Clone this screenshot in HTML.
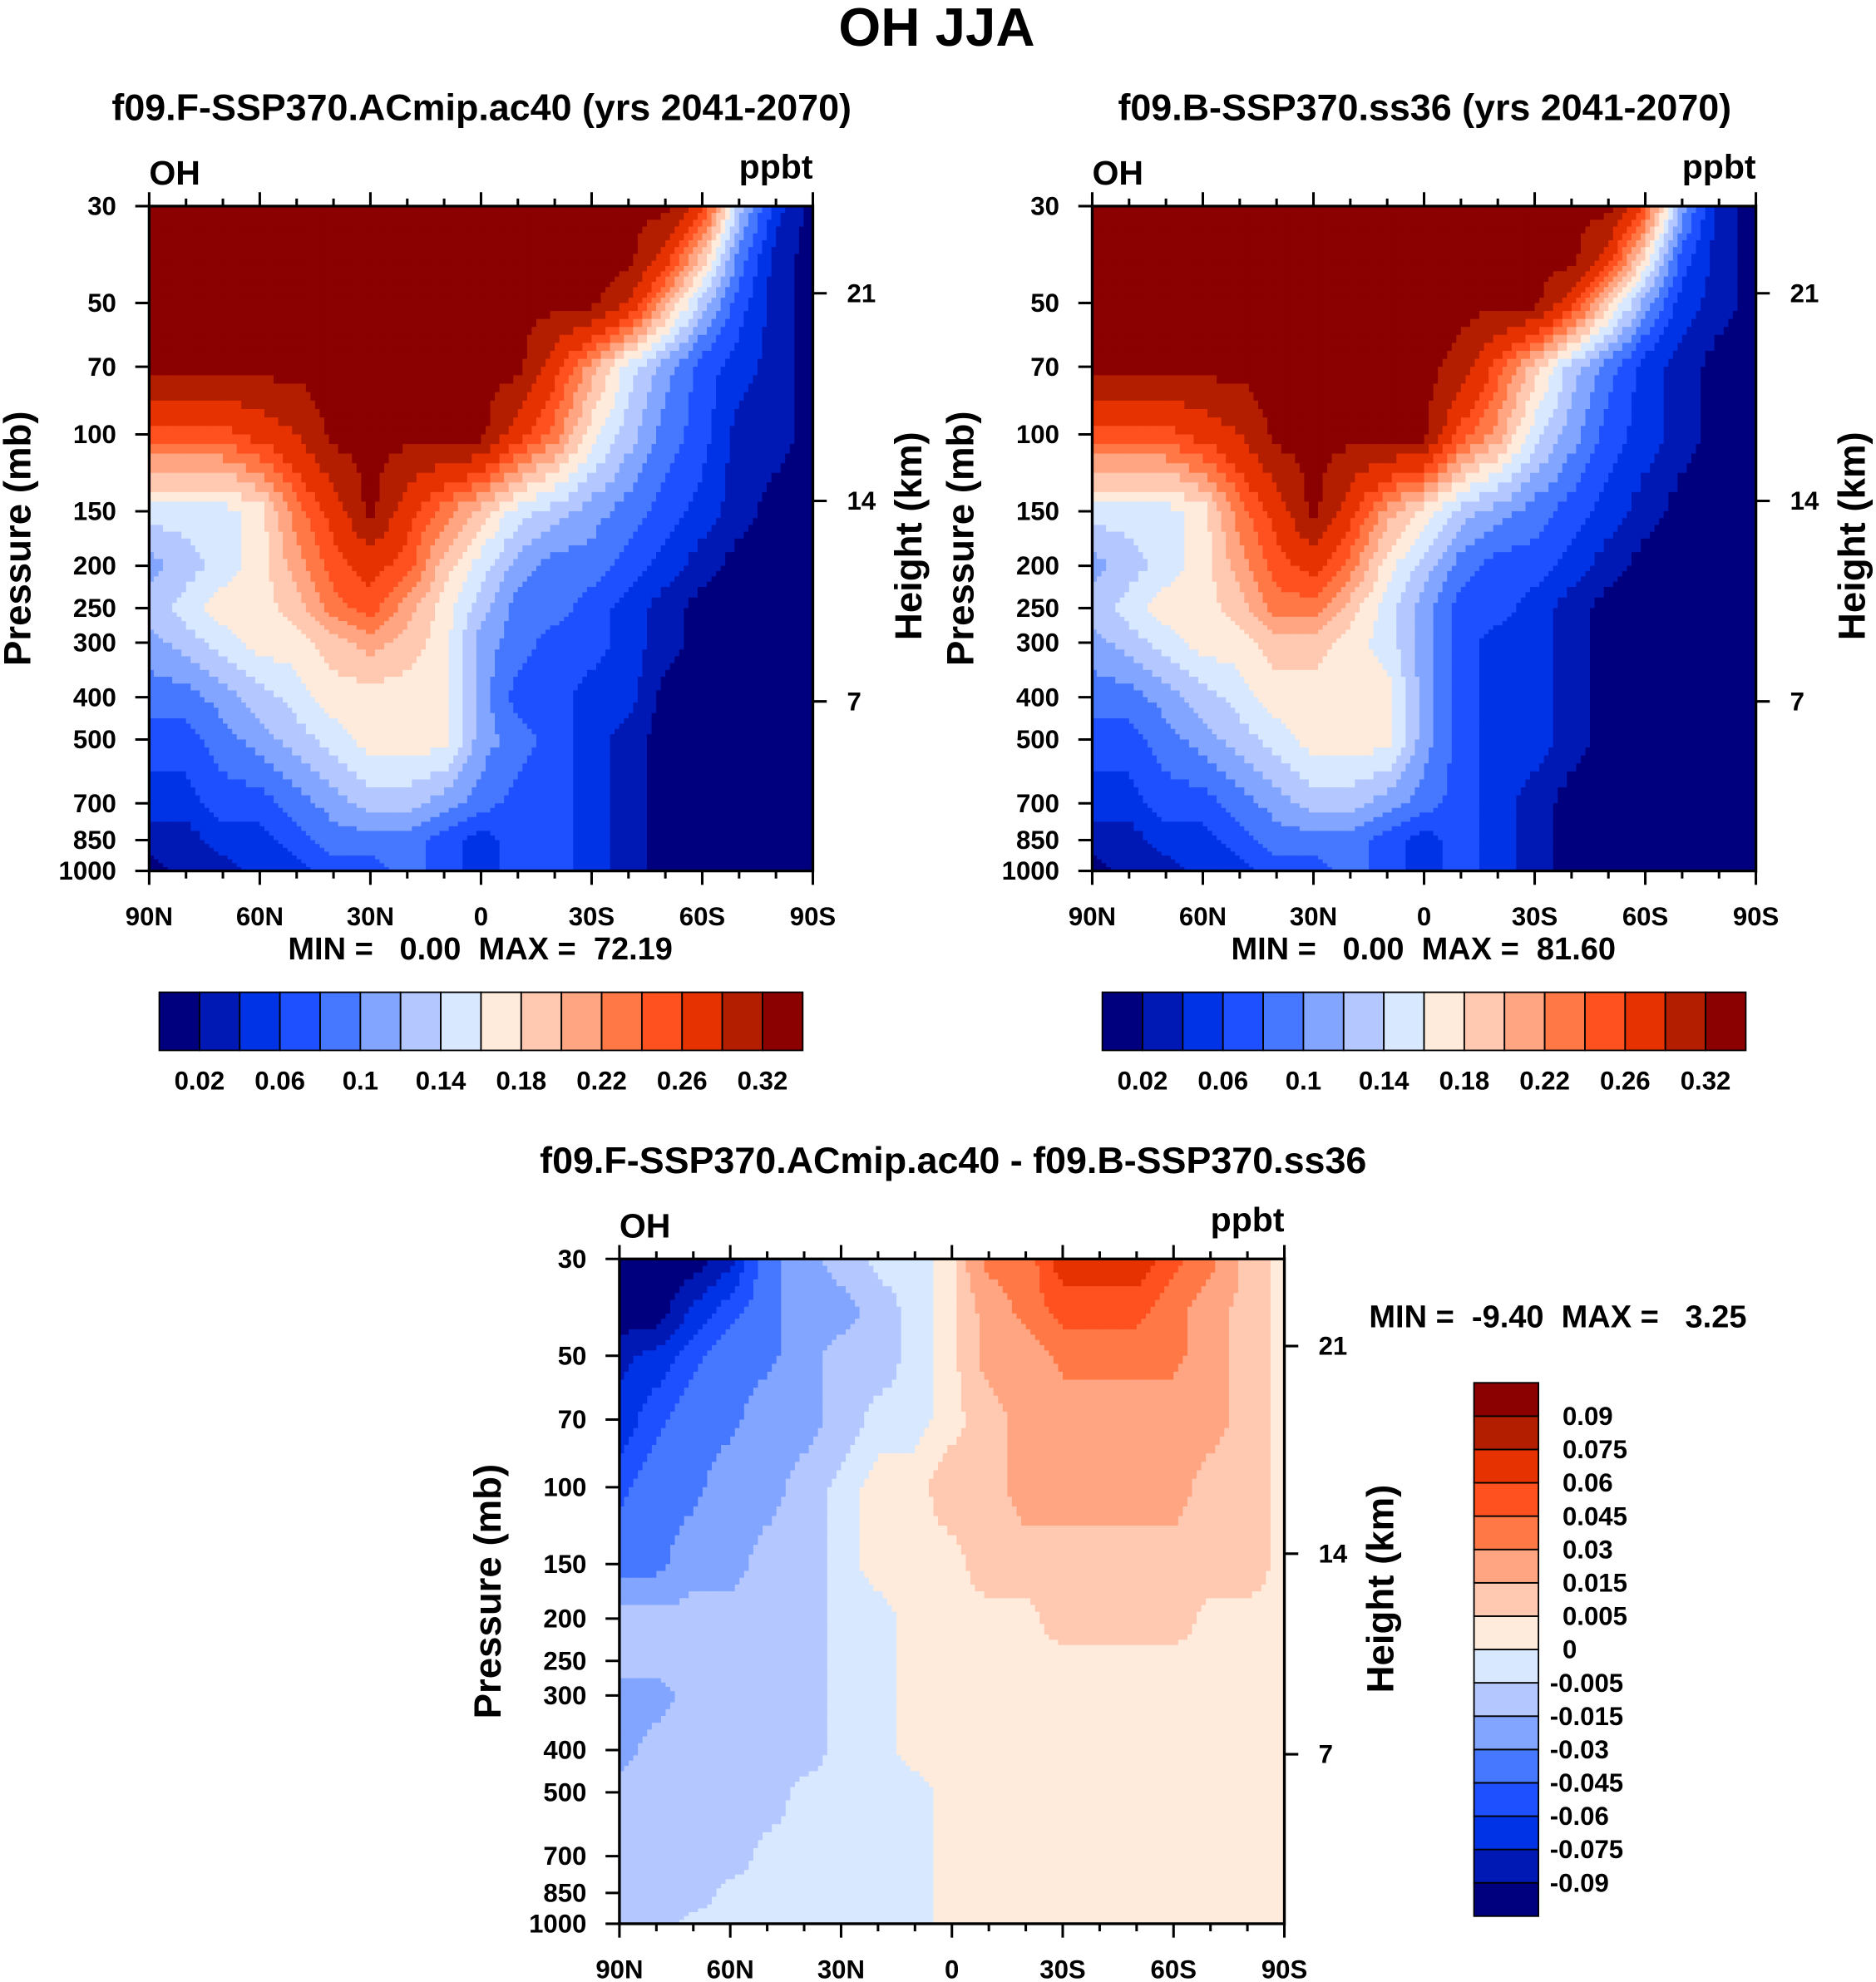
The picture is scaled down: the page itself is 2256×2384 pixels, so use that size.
<!DOCTYPE html>
<html><head><meta charset="utf-8"><title>OH JJA</title>
<style>
html,body{margin:0;padding:0;background:#fff;}
svg{display:block;font-family:"Liberation Sans",Arial,sans-serif;font-weight:bold;}
</style></head>
<body>
<svg id="fig" xmlns="http://www.w3.org/2000/svg" width="2256" height="2384" viewBox="0 0 1484 1568">
<rect width="1484" height="1568" fill="#fff"/>
<text x="741" y="36" font-size="43" text-anchor="middle">OH JJA</text>
<text x="381" y="95" font-size="29.5" text-anchor="middle">f09.F-SSP370.ACmip.ac40 (yrs 2041-2070)</text>
<text x="1127" y="95" font-size="29.5" text-anchor="middle">f09.B-SSP370.ss36 (yrs 2041-2070)</text>
<text x="754" y="928" font-size="29.5" text-anchor="middle">f09.F-SSP370.ACmip.ac40 - f09.B-SSP370.ss36</text>
<text x="380" y="759" font-size="25" text-anchor="middle" xml:space="preserve">MIN =   0.00  MAX =  72.19</text>
<text x="1126" y="759" font-size="25" text-anchor="middle" xml:space="preserve">MIN =   0.00  MAX =  81.60</text>
<text x="1083" y="1050" font-size="25" xml:space="preserve">MIN =  -9.40  MAX =   3.25</text>
</svg>
<script>
// ---- data ----
const latitudes = [90,80,70,60,50,40,30,20,10,0,-10,-20,-30,-40,-50,-60,-70,-80,-90];
const pressureLevels = [30,40,50,70,100,150,200,250,300,400,500,700,850,1000];
const pressureTicks = [30,50,70,100,150,200,250,300,400,500,700,850,1000];
const heightTicks = [21,14,7];
const heightTickPressure = [47.5,142,409]; // pressure (mb) at each height tick
const latTickValues = [90,60,30,0,-30,-60,-90];
const latTickLabels = ["90N","60N","30N","0","30S","60S","90S"];
const ohLevels = [0.02,0.04,0.06,0.08,0.10,0.12,0.14,0.16,0.18,0.20,0.22,0.24,0.26,0.29,0.32];
const ohBarLabels = ["0.02","0.06","0.1","0.14","0.18","0.22","0.26","0.32"];
const diffLevels = [-0.09,-0.075,-0.06,-0.045,-0.03,-0.015,-0.005,0,0.005,0.015,0.03,0.045,0.06,0.075,0.09];
const diffBarLabels = ["0.09","0.075","0.06","0.045","0.03","0.015","0.005","0","-0.005","-0.015","-0.03","-0.045","-0.06","-0.075","-0.09"];
const colors = ["#00007f","#0019b4","#0032e6","#1e50ff","#4678ff","#82a5ff","#b4c8ff","#d7e8ff","#ffebdc","#ffc8b0","#ffa582","#ff7846","#ff5020","#e63200","#b41e00","#8b0000"];

// OH (ppbt) panel 1, rows = pressureLevels, cols = latitudes
const ohAc40 = [
[.33,.33,.33,.33,.33,.33,.33,.33,.33,.33,.33,.33,.33,.33,.33,.27,.13,.05,.01],
[.33,.33,.33,.33,.33,.33,.33,.33,.33,.33,.33,.33,.33,.33,.27,.19,.09,.03,.01],
[.33,.33,.33,.33,.33,.33,.33,.33,.33,.33,.33,.33,.33,.29,.21,.13,.07,.03,.01],
[.33,.33,.33,.33,.33,.33,.33,.33,.33,.33,.33,.27,.21,.15,.11,.07,.05,.03,.01],
[.25,.25,.25,.27,.29,.33,.33,.33,.33,.33,.27,.23,.17,.13,.09,.07,.03,.03,.01],
[.15,.15,.15,.17,.23,.27,.33,.27,.23,.19,.15,.13,.11,.09,.07,.05,.03,.01,.01],
[.11,.13,.15,.17,.21,.25,.27,.25,.19,.15,.11,.09,.09,.07,.05,.03,.01,.01,.01],
[.13,.15,.17,.17,.19,.23,.25,.21,.17,.13,.09,.09,.07,.05,.03,.01,.01,.01,.01],
[.11,.13,.15,.17,.17,.19,.21,.19,.17,.11,.09,.07,.07,.05,.03,.01,.01,.01,.01],
[.09,.09,.11,.13,.15,.17,.17,.17,.17,.11,.07,.07,.05,.05,.01,.01,.01,.01,.01],
[.07,.07,.09,.11,.13,.15,.17,.17,.17,.11,.09,.07,.05,.03,.01,.01,.01,.01,.01],
[.05,.05,.07,.07,.09,.11,.13,.13,.11,.09,.07,.07,.05,.03,.01,.01,.01,.01,.01],
[.03,.03,.05,.05,.07,.09,.09,.09,.07,.05,.07,.07,.05,.03,.01,.01,.01,.01,.01],
[.01,.03,.03,.05,.05,.07,.07,.09,.07,.05,.07,.07,.05,.03,.01,.01,.01,.01,.01]];
// OH (ppbt) panel 2
const ohSs36 = [
[.33,.33,.33,.33,.33,.33,.33,.33,.33,.33,.33,.33,.33,.33,.33,.25,.11,.03,.01],
[.33,.33,.33,.33,.33,.33,.33,.33,.33,.33,.33,.33,.33,.33,.27,.17,.07,.03,.01],
[.33,.33,.33,.33,.33,.33,.33,.33,.33,.33,.33,.33,.33,.27,.19,.11,.05,.03,.01],
[.33,.33,.33,.33,.33,.33,.33,.33,.33,.33,.31,.25,.19,.13,.09,.05,.03,.01,.01],
[.25,.25,.25,.27,.29,.33,.33,.33,.33,.33,.25,.21,.15,.11,.07,.05,.03,.01,.01],
[.15,.15,.15,.17,.23,.27,.33,.27,.21,.17,.13,.11,.09,.07,.05,.03,.01,.01,.01],
[.11,.13,.15,.17,.21,.25,.27,.23,.17,.13,.09,.07,.07,.05,.03,.01,.01,.01,.01],
[.13,.15,.17,.17,.19,.23,.23,.19,.15,.11,.07,.07,.05,.03,.01,.01,.01,.01,.01],
[.11,.13,.15,.17,.17,.19,.19,.17,.15,.11,.07,.05,.05,.03,.01,.01,.01,.01,.01],
[.09,.09,.11,.13,.15,.17,.17,.17,.17,.11,.07,.05,.05,.03,.01,.01,.01,.01,.01],
[.07,.07,.09,.11,.13,.15,.17,.17,.17,.11,.07,.05,.05,.03,.01,.01,.01,.01,.01],
[.05,.05,.07,.07,.09,.11,.13,.13,.11,.09,.07,.05,.03,.01,.01,.01,.01,.01,.01],
[.03,.03,.05,.05,.07,.09,.09,.09,.07,.05,.07,.05,.03,.01,.01,.01,.01,.01,.01],
[.01,.03,.03,.05,.05,.07,.07,.09,.07,.05,.07,.05,.03,.01,.01,.01,.01,.01,.01]];
// difference (ppbt) panel 3
const ohDiff = [
[-.10,-.10,-.10,-.08,-.035,-.02,-.01,-.002,-.002,.002,.035,.035,.07,.07,.07,.05,.035,.01,.002],
[-.10,-.10,-.07,-.05,-.035,-.02,-.02,-.01,-.002,.002,.02,.035,.05,.05,.05,.035,.02,.01,.002],
[-.08,-.07,-.05,-.035,-.035,-.02,-.01,-.01,-.002,.002,.02,.02,.035,.035,.035,.035,.02,.01,.002],
[-.07,-.05,-.035,-.035,-.02,-.02,-.01,-.002,-.002,.002,.01,.02,.02,.02,.02,.02,.02,.01,.002],
[-.05,-.035,-.035,-.02,-.02,-.01,-.002,.002,.002,.01,.01,.02,.02,.02,.02,.02,.01,.01,.002],
[-.035,-.035,-.02,-.02,-.01,-.01,-.002,.002,.002,.002,.01,.01,.01,.01,.01,.01,.01,.01,.002],
[-.01,-.01,-.01,-.01,-.01,-.01,-.002,-.002,.002,.002,.002,.002,.01,.01,.01,.01,.002,.002,.002],
[-.01,-.01,-.01,-.01,-.01,-.01,-.002,-.002,.002,.002,.002,.002,.002,.002,.002,.002,.002,.002,.002],
[-.02,-.02,-.01,-.01,-.01,-.01,-.002,-.002,.002,.002,.002,.002,.002,.002,.002,.002,.002,.002,.002],
[-.02,-.01,-.01,-.01,-.01,-.01,-.002,-.002,.002,.002,.002,.002,.002,.002,.002,.002,.002,.002,.002],
[-.01,-.01,-.01,-.01,-.01,-.002,-.002,-.002,-.002,.002,.002,.002,.002,.002,.002,.002,.002,.002,.002],
[-.01,-.01,-.01,-.01,-.002,-.002,-.002,-.002,-.002,.002,.002,.002,.002,.002,.002,.002,.002,.002,.002],
[-.01,-.01,-.01,-.002,-.002,-.002,-.002,-.002,-.002,.002,.002,.002,.002,.002,.002,.002,.002,.002,.002],
[-.01,-.01,-.002,-.002,-.002,-.002,-.002,-.002,-.002,.002,.002,.002,.002,.002,.002,.002,.002,.002,.002]];

// ---- drawing ----
const NS = "http://www.w3.org/2000/svg";
const svg = document.getElementById('fig');
function mk(tag, attrs, parent){const e=document.createElementNS(NS,tag);for(const k in attrs)e.setAttribute(k,attrs[k]);(parent||svg).appendChild(e);return e;}
function levelIndex(v, levels){let i=0;while(i<levels.length&&v>=levels[i])i++;return i;}

function drawPanel(name, grid, levels, X0, Y0, W, H){
  const xScale = lat => X0 + (90-lat)/180*W;
  const yScale = p => Y0 + (Math.log(p/30))/Math.log(1000/30)*H;
  const g = mk('g',{});
  
  
  const SUB = 8;
  for(let r=0;r<pressureLevels.length-1;r++){
    const ya=yScale(pressureLevels[r]), yb=yScale(pressureLevels[r+1]);
    for(let c=0;c<latitudes.length-1;c++){
      const xa=xScale(latitudes[c]), xb=xScale(latitudes[c+1]);
      const v00=grid[r][c],v01=grid[r][c+1],v10=grid[r+1][c],v11=grid[r+1][c+1];
      for(let i=0;i<SUB;i++){
        for(let j=0;j<SUB;j++){
          const tx=(j+0.5)/SUB, ty=(i+0.5)/SUB;
          const v=(v00*(1-tx)+v01*tx)*(1-ty)+(v10*(1-tx)+v11*tx)*ty;
          const x=xa+(xb-xa)*j/SUB, y=ya+(yb-ya)*i/SUB;
          mk('rect',{x:x.toFixed(2),y:y.toFixed(2),width:((xb-xa)/SUB+0.6).toFixed(2),height:((yb-ya)/SUB+0.6).toFixed(2),fill:colors[levelIndex(v,levels)]},g);
        }
      }
    }
  }
  const frame = mk('rect',{x:X0,y:Y0,width:W,height:H,fill:'none',stroke:'#000','stroke-width':2.2});
  
  
  for(let lat=90;lat>=-90;lat-=10){
    const x=xScale(lat), major = lat%30===0, L = major?11:6;
    mk('line',{x1:x,x2:x,y1:Y0,y2:Y0-L,stroke:'#000','stroke-width':2});
    mk('line',{x1:x,x2:x,y1:Y0+H,y2:Y0+H+L,stroke:'#000','stroke-width':2});
  }
  latTickValues.forEach((lat,i)=>{
    const t=mk('text',{x:xScale(lat),y:Y0+H+43,'font-size':20.5,'text-anchor':'middle'});
    t.textContent=latTickLabels[i];
    
    
  });
  pressureTicks.forEach(p=>{
    const y=yScale(p);
    mk('line',{x1:X0,x2:X0-11,y1:y,y2:y,stroke:'#000','stroke-width':2});
    const t=mk('text',{x:X0-26,y:y+7,'font-size':20.5,'text-anchor':'end'});
    t.textContent=p;
    
    
  });
  heightTicks.forEach((h,i)=>{
    const y=yScale(heightTickPressure[i]);
    mk('line',{x1:X0+W,x2:X0+W+11,y1:y,y2:y,stroke:'#000','stroke-width':2});
    const t=mk('text',{x:X0+W+27,y:y+7,'font-size':20.5});
    t.textContent=h;
    
    
  });
  const oh=mk('text',{x:X0,y:Y0-17,'font-size':27}); oh.textContent='OH';
  
  
  const un=mk('text',{x:X0+W,y:Y0-22,'font-size':27,'text-anchor':'end'}); un.textContent='ppbt';
  
  
  const yl=mk('text',{x:0,y:0,'font-size':30,'text-anchor':'middle',transform:`translate(${X0-94},${Y0+H/2}) rotate(-90)`}); yl.textContent='Pressure (mb)';
  
  
  const yr=mk('text',{x:0,y:0,'font-size':30,'text-anchor':'middle',transform:`translate(${X0+W+86},${Y0+H/2-2}) rotate(-90)`}); yr.textContent='Height (km)';
  
  
}

function hBar(name, X0, Y0, W, H){
  const n=colors.length, bw=W/n;
  colors.forEach((c,i)=>{
    const b=mk('rect',{x:X0+i*bw,y:Y0,width:bw,height:H,fill:c,stroke:'#000','stroke-width':1.2});
    
    
  });
  ohBarLabels.forEach((lab,i)=>{
    const t=mk('text',{x:X0+(2*i+1)*bw,y:Y0+H+31,'font-size':20.5,'text-anchor':'middle'});
    t.textContent=lab;
    
    
  });
}
function vBar(name, X0, Y0, W, H){
  const n=colors.length, bh=H/n;
  colors.forEach((c,i)=>{
    const b=mk('rect',{x:X0,y:Y0+(n-1-i)*bh,width:W,height:bh,fill:c,stroke:'#000','stroke-width':1.2});
    
    
  });
  diffBarLabels.forEach((lab,i)=>{
    const t=mk('text',{x:lab.startsWith('-')?X0+W+9:X0+W+19,y:Y0+(i+1)*bh+7,'font-size':20.5});
    t.textContent=lab;
    
    
  });
}

drawPanel('panel1', ohAc40, ohLevels, 118, 163, 525, 526);
drawPanel('panel2', ohSs36, ohLevels, 864, 163, 525, 526);
drawPanel('panel3', ohDiff, diffLevels, 490, 996, 526, 526);
hBar('panel1-colorbar', 126, 785, 509, 46);
hBar('panel2-colorbar', 872, 785, 509, 46);
vBar('panel3-colorbar', 1166, 1094, 51, 422);
</script>
</body></html>
